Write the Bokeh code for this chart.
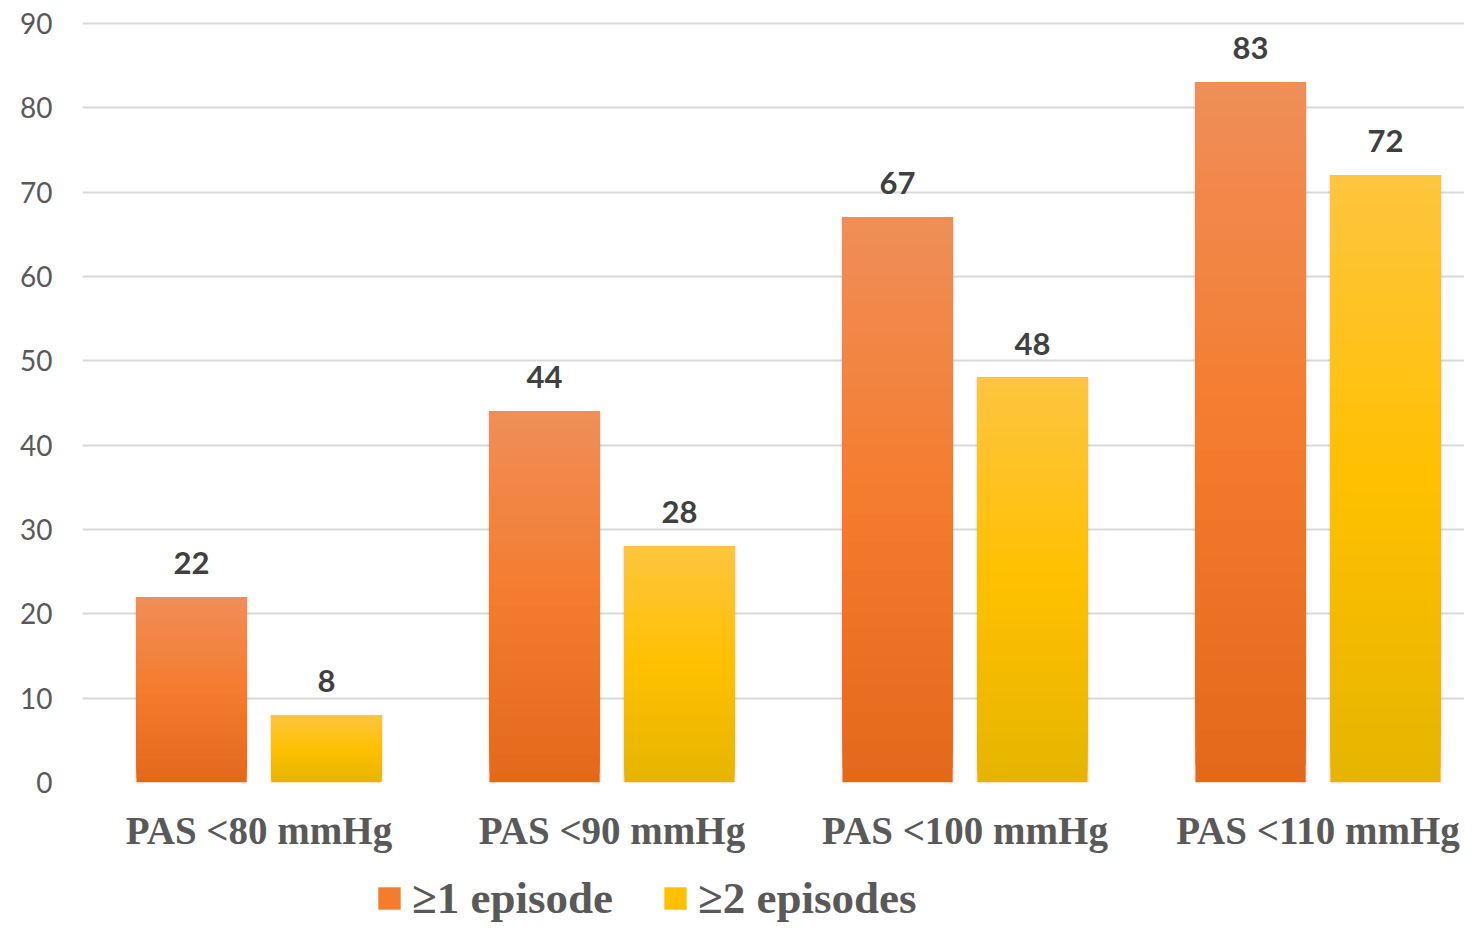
from bokeh.plotting import figure
from bokeh.layouts import column
from bokeh.models import ColumnDataSource, Range1d, Legend, LegendItem, FixedTicker
from bokeh.core.properties import value
from bokeh.embed import file_html
from bokeh.resources import INLINE

categories = ["PAS <80 mmHg", "PAS <90 mmHg", "PAS <100 mmHg", "PAS <110 mmHg"]
series_names = ["≥1 episode", "≥2 episodes"]
one_episode = [22, 44, 67, 83]
two_episodes = [8, 28, 48, 72]
y_ticks = [0, 10, 20, 30, 40, 50, 60, 70, 80, 90]

# gradient stops (bottom, middle, top)
orange_stops = [(227, 104, 26), (244, 124, 46), (240, 142, 88)]
yellow_stops = [(230, 181, 0), (255, 192, 0), (254, 197, 64)]

N = 40
BAR_W = 0.312
OFF = 0.191

idx = list(range(len(categories)))


def grad_color(stops, t):
    if t < 0.5:
        a, b, f = stops[0], stops[1], t / 0.5
    else:
        a, b, f = stops[1], stops[2], (t - 0.5) / 0.5
    c = [round(a[k] + (b[k] - a[k]) * f) for k in range(3)]
    return "#%02x%02x%02x" % tuple(c)


p = figure(
    x_range=Range1d(-0.5, 3.415),
    y_range=Range1d(0, 90.35),
    width=1464,
    height=862,
    output_backend="svg",
    toolbar_location=None,
    min_border_left=82,
    min_border_right=0,
    min_border_top=20,
    min_border_bottom=80,
)
p.outline_line_color = None
p.background_fill_color = "white"

p.xgrid.grid_line_color = None
p.ygrid.grid_line_color = "#D9D9D9"
p.ygrid.grid_line_width = 2
p.yaxis.ticker = y_ticks
p.xaxis.ticker = FixedTicker(ticks=idx)
p.xaxis.major_label_overrides = {i: c for i, c in zip(idx, categories)}


def draw_series(vals, stops, off):
    xs = [i + off for i in idx]
    ssrc = ColumnDataSource(dict(x=xs, top=vals))
    p.vbar(x="x", top="top", bottom=0, width=BAR_W + 0.014, source=ssrc,
           fill_color="#808080", fill_alpha=0.07, line_color=None)
    p.vbar(x="x", top="top", bottom=0, width=BAR_W + 0.007, source=ssrc,
           fill_color="#808080", fill_alpha=0.10, line_color=None)
    bx, bottoms, tops, colors = [], [], [], []
    for j in range(N):
        t = (j + 0.5) / N
        col = grad_color(stops, t)
        for x, v in zip(xs, vals):
            bx.append(x)
            bottoms.append(v * j / N)
            tops.append(v)
            colors.append(col)
    src = ColumnDataSource(dict(x=bx, bottom=bottoms, top=tops, color=colors))
    p.vbar(x="x", bottom="bottom", top="top", width=BAR_W, source=src,
           fill_color="color", line_color=None)
    lsrc = ColumnDataSource(dict(x=xs, y=vals, t=[str(v) for v in vals]))
    p.text(x="x", y="y", text="t", source=lsrc,
           text_align="center", text_baseline="bottom", y_offset=-23,
           text_font=value("Lato"), text_font_style="bold",
           text_font_size="31px", text_color="#404040")


draw_series(one_episode, orange_stops, -OFF)
draw_series(two_episodes, yellow_stops, OFF)

for ax in (p.xaxis, p.yaxis):
    ax.axis_line_color = None
    ax.major_tick_line_color = None
    ax.minor_tick_line_color = None
    ax.major_tick_out = 0
    ax.major_tick_in = 0
    ax.major_label_text_color = "#595959"

p.yaxis.major_label_text_font = "Lato"
p.yaxis.major_label_text_font_size = "28px"
p.yaxis.major_label_standoff = 30

p.xaxis.major_label_text_font = "Liberation Serif"
p.xaxis.major_label_text_font_style = "bold"
p.xaxis.major_label_text_font_size = "39px"
p.xaxis.major_label_standoff = 26

# legend strip below the chart
lg = figure(
    x_range=Range1d(0, 1), y_range=Range1d(0, 1),
    width=1464, height=60,
    output_backend="svg", toolbar_location=None,
    min_border=0, x_axis_type=None, y_axis_type=None,
)
lg.outline_line_color = None
lg.xgrid.grid_line_color = None
lg.ygrid.grid_line_color = None

# invisible proxies (zero width, outside the visible range) used only for legend swatches
r1 = lg.vbar(x=[0.5], top=[6], bottom=[5], width=0,
             fill_color=grad_color(orange_stops, 0.5), line_color=None)
r2 = lg.vbar(x=[0.5], top=[6], bottom=[5], width=0,
             fill_color=grad_color(yellow_stops, 0.5), line_color=None)

legend = Legend(
    items=[LegendItem(label=series_names[0], renderers=[r1]),
           LegendItem(label=series_names[1], renderers=[r2])],
    orientation="horizontal",
    location=(293, -2),
    glyph_width=28,
    glyph_height=28,
    label_standoff=9,
    spacing=48,
    padding=0,
    margin=0,
    border_line_color=None,
    background_fill_alpha=0,
    label_text_font="Liberation Serif",
    label_text_font_style="bold",
    label_text_font_size="45px",
    label_text_color="#595959",
)
lg.add_layout(legend)

layout = column(p, lg, spacing=0)
open("out.html", "w").write(file_html(layout, INLINE))
